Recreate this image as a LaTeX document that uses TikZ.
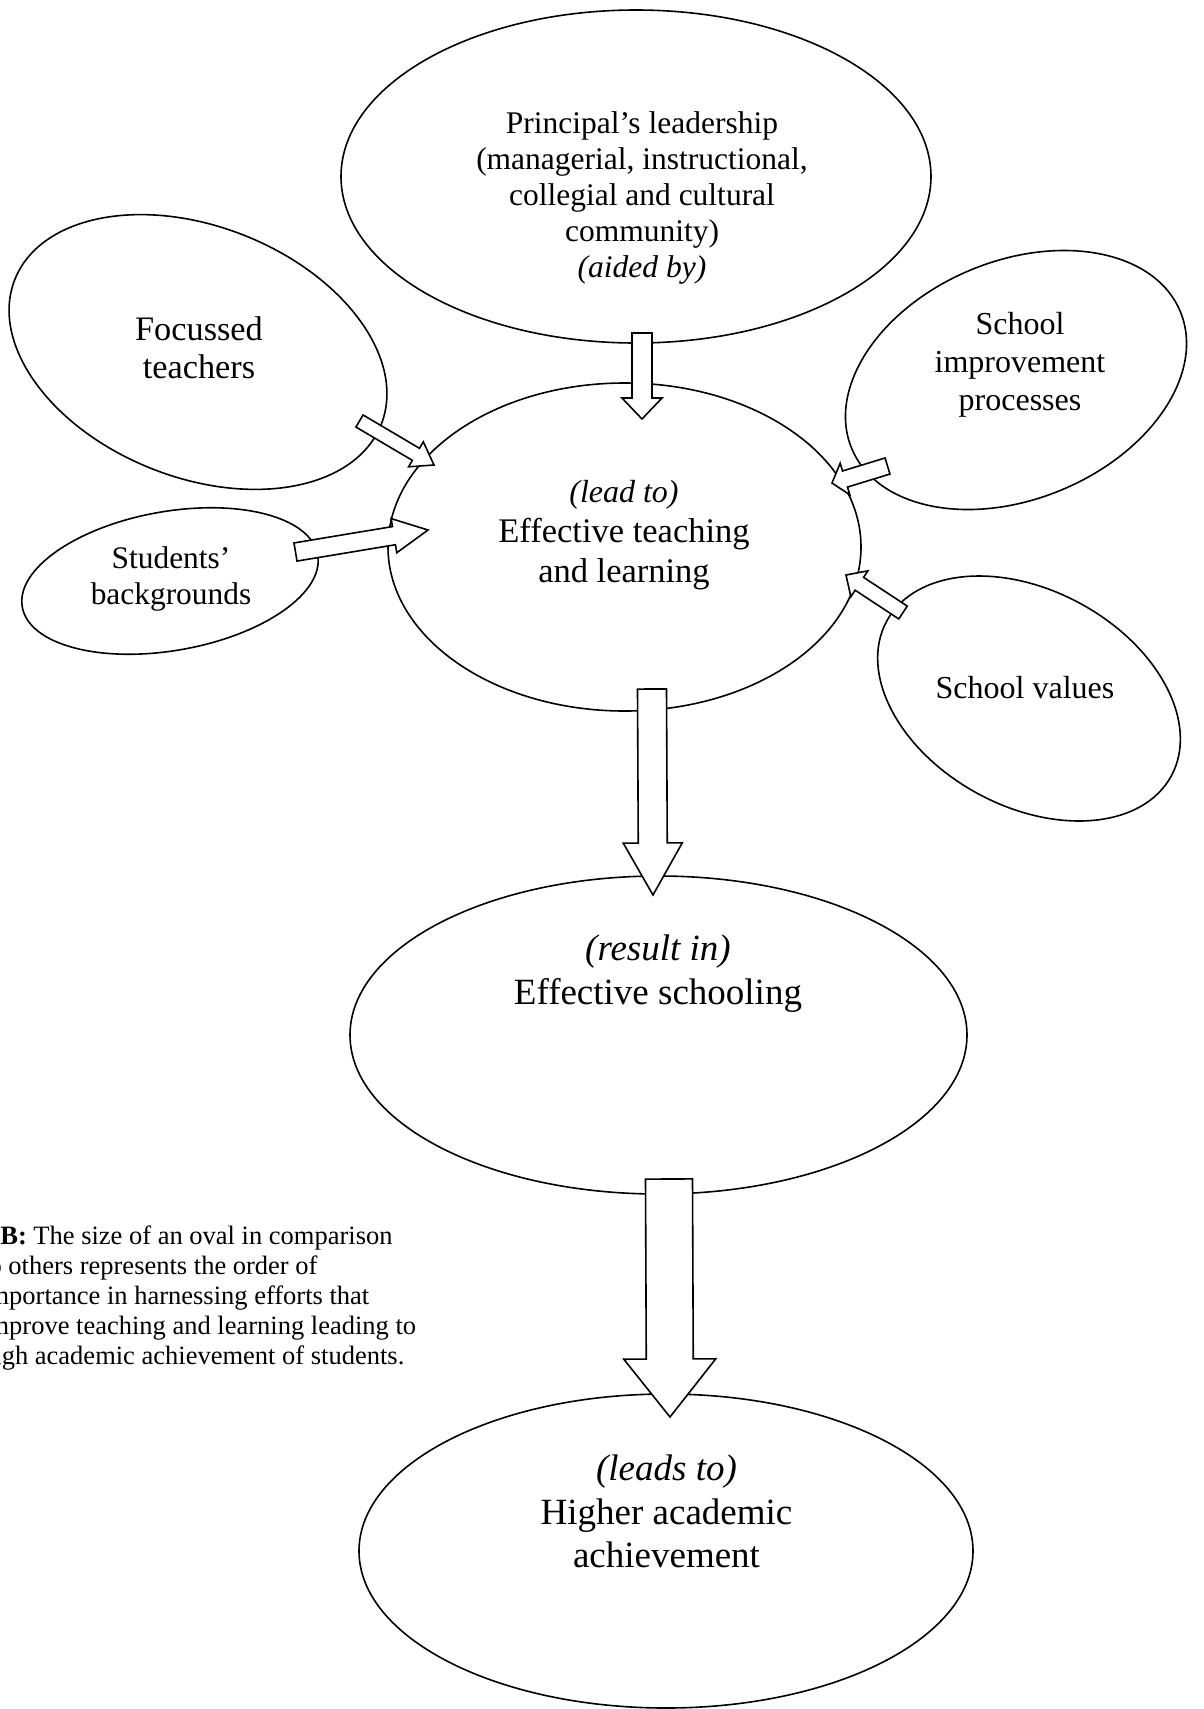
\documentclass[tikz,border=0pt]{standalone}
\usepackage{fontspec}
\setmainfont{Liberation Serif}
\usetikzlibrary{shapes.geometric,calc}

\tikzset{
  oval/.style={draw, ellipse, line width=1.6pt, inner sep=0pt},
  lbl/.style={inner sep=0pt, align=center,
    execute at begin node=\strut, execute at end node=\strut},
  barrow/.style={draw, fill=white, line width=1.6pt, line join=miter},
}

% block arrow: #1 tail, #2 tip, #3 half shaft width, #4 half head width, #5 head length
\newcommand\blockarrow[5]{%
  \coordinate (ba-base) at ($(#2)!#5!(#1)$);
  \filldraw[barrow]
    ($(#1)!#3!90:(#2)$) -- ($(ba-base)!#3!-90:(#1)$) -- ($(ba-base)!#4!-90:(#1)$)
    -- (#2) -- ($(ba-base)!#4!90:(#1)$) -- ($(ba-base)!#3!90:(#1)$)
    -- ($(#1)!#3!-90:(#2)$) -- cycle;
}

\begin{document}
\begin{tikzpicture}[x=1pt,y=1pt]
\useasboundingbox (0,0) rectangle (1203,-1709);
\fill[white] (0,0) rectangle (1203,-1709);
\clip (0,0) rectangle (1203,-1709);

% ovals
\node[oval, minimum width=590pt, minimum height=333pt] (lead) at (636,-176.5) {};
\node[oval, minimum width=394pt, minimum height=251pt, rotate=-21.6] (teach) at (198,-352) {};
\node[oval, minimum width=300pt, minimum height=139pt, rotate=10] (stud) at (170,-581) {};
\node[oval, minimum width=473pt, minimum height=328pt] (etl) at (624.5,-547) {};
\node[oval, minimum width=356pt, minimum height=238pt, rotate=22.7] (sip) at (1016,-380) {};
\node[oval, minimum width=324pt, minimum height=216pt, rotate=-28.6] (sv) at (1029,-698.5) {};
\node[oval, minimum width=617pt, minimum height=318pt] (es) at (658.5,-1035) {};
\node[oval, minimum width=614pt, minimum height=314pt] (haa) at (666,-1551) {};

% arrow end points
\coordinate (lead-out) at (642,-333);   \coordinate (etl-in1) at (642,-419);
\coordinate (teach-out) at (359.5,-421); \coordinate (etl-in2) at (434,-465);
\coordinate (stud-out) at (295.5,-552);  \coordinate (etl-in3) at (428,-530);
\coordinate (sip-out) at (887.5,-466);   \coordinate (etl-in4) at (832,-483);
\coordinate (sv-out) at (903,-612.5);    \coordinate (etl-in5) at (846,-575);
\coordinate (etl-out) at (652,-689);     \coordinate (es-in) at (653,-895);
\coordinate (es-out) at (669,-1179);     \coordinate (haa-in) at (670,-1417);

% block arrows
\blockarrow{lead-out}{etl-in1}{10pt}{20pt}{21pt}
\blockarrow{teach-out}{etl-in2}{7pt}{14.5pt}{21pt}
\blockarrow{stud-out}{etl-in3}{9.2pt}{17.3pt}{34.5pt}
\blockarrow{sip-out}{etl-in4}{8.4pt}{16.5pt}{13.6pt}
\blockarrow{sv-out}{etl-in5}{7.7pt}{15.5pt}{16pt}
\blockarrow{etl-out}{es-in}{14.5pt}{29.5pt}{52pt}
\blockarrow{es-out}{haa-in}{23.5pt}{46pt}{58pt}

% labels
\node[lbl, font=\fontsize{31.5}{36}\selectfont] (lead-t) at (642,-200)
  {Principal’s leadership\\(managerial, instructional,\\collegial and cultural\\community)\\\textit{(aided by)}};
\node[lbl, font=\fontsize{34.3}{38}\selectfont] (teach-t) at (199,-353.4)
  {Focussed\\teachers};
\node[lbl, font=\fontsize{31.4}{36}\selectfont] (stud-t) at (171,-580.8)
  {Students’\\backgrounds};
\node[lbl, font=\fontsize{34.5}{40}\selectfont] (etl-t) at (624,-537)
  {{\fontsize{32}{40}\selectfont\itshape (lead to)}\\Effective teaching\\and learning};
\node[lbl, font=\fontsize{32}{38}\selectfont] (sip-t) at (1020,-367)
  {School\\improvement\\processes};
\node[lbl, font=\fontsize{32}{38}\selectfont] (sv-t) at (1025,-690.4)
  {School values};
\node[lbl, font=\fontsize{37}{44}\selectfont] (es-t) at (658,-976.2)
  {\textit{(result in)}\\Effective schooling};
\node[lbl, font=\fontsize{37}{43.5}\selectfont] (haa-t) at (666.5,-1518)
  {\textit{(leads to)}\\Higher academic\\achievement};

% note on the left
\node[lbl, align=left, anchor=west, font=\fontsize{26.5}{30}\selectfont] (note) at (-19,-1300)
  {\textbf{NB:} The size of an oval in comparison\\to others represents the order of\\importance in harnessing efforts that\\improve teaching and learning leading to\\high academic achievement of students.};
\end{tikzpicture}
\end{document}
